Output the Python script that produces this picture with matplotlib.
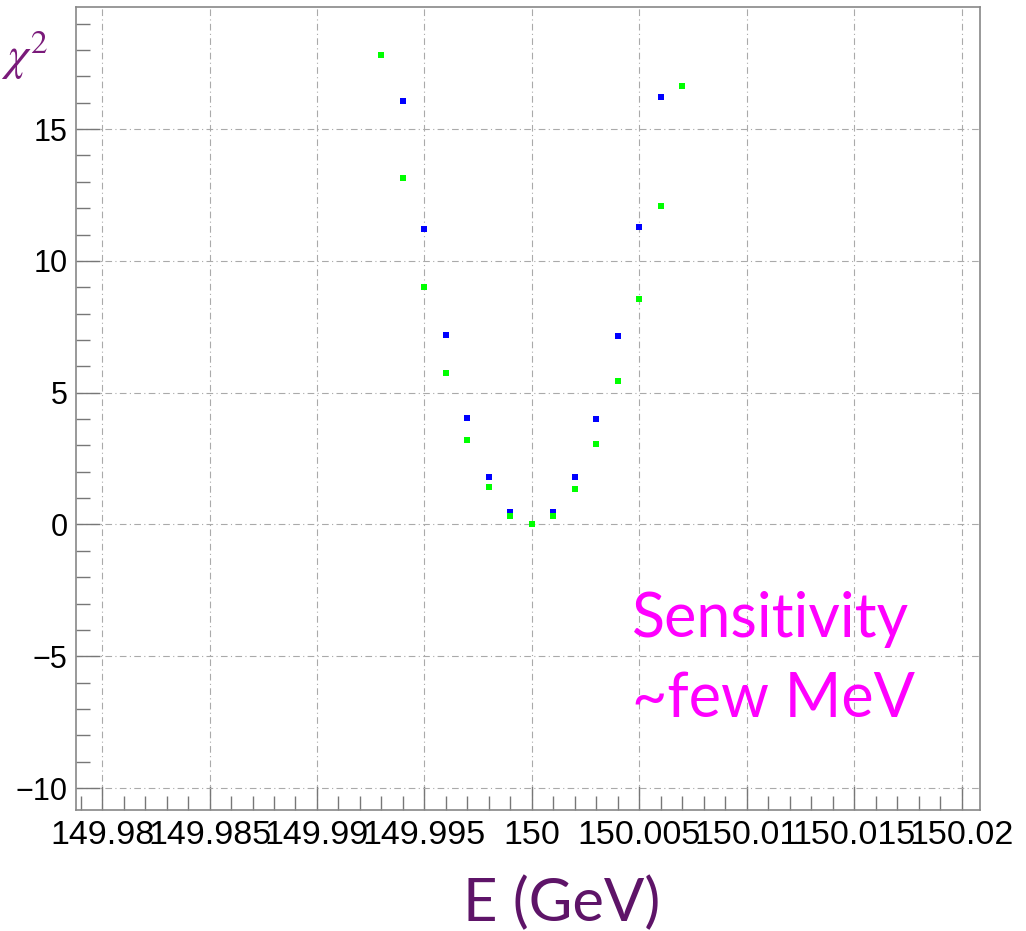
import matplotlib
matplotlib.use("Agg")
import matplotlib.pyplot as plt
import numpy as np
from matplotlib.ticker import MultipleLocator, FuncFormatter

# Beam energy scan points (GeV) and chi2 for the two fits
energy_blue = [149.994, 149.995, 149.996, 149.997, 149.998, 149.999,
               150.001, 150.002, 150.003, 150.004, 150.005, 150.006]
chi2_blue = [16.05, 11.19, 7.20, 4.05, 1.81, 0.46,
             0.47, 1.79, 4.01, 7.16, 11.27, 16.23]

energy_green = [149.993, 149.994, 149.995, 149.996, 149.997, 149.998, 149.999,
                150.000, 150.001, 150.002, 150.003, 150.004, 150.005, 150.006, 150.007]
chi2_green = [17.81, 13.15, 9.00, 5.76, 3.21, 1.41, 0.33,
              0.0, 0.32, 1.33, 3.05, 5.44, 8.55, 12.09, 16.63]

plt.rcParams['mathtext.fontset'] = 'stix'

fig = plt.figure(figsize=(10.26, 9.31), dpi=100)
ax = fig.add_axes([76 / 1026, 1 - 810 / 931, 904 / 1026, 803 / 931])

ax.plot(energy_blue, chi2_blue, 's', color='#0000ff', markersize=4.5, markeredgewidth=0)
ax.plot(energy_green, chi2_green, 's', color='#00ff00', markersize=4.5, markeredgewidth=0)

ax.set_xlim(149.97879, 150.02084)
ax.set_ylim(-10.83, 19.63)

ax.xaxis.set_major_locator(MultipleLocator(0.005))
ax.xaxis.set_minor_locator(MultipleLocator(0.001))
ax.yaxis.set_major_locator(MultipleLocator(5))
ax.yaxis.set_minor_locator(MultipleLocator(1))
ax.xaxis.set_major_formatter(FuncFormatter(lambda v, p: f"{v:.3f}".rstrip('0').rstrip('.')))
ax.yaxis.set_major_formatter(FuncFormatter(lambda v, p: f"{v:g}".replace('-', '\u2212')))

ax.tick_params(axis='both', which='major', direction='in', length=17, width=1,
               color='#777777')
ax.tick_params(axis='both', which='minor', direction='in', length=10, width=1,
               color='#777777')
ax.tick_params(axis='x', which='major', labelsize=24.5, pad=7)
ax.tick_params(axis='y', which='major', labelsize=22, pad=6)
for lab in ax.get_xticklabels() + ax.get_yticklabels():
    lab.set_fontfamily('Liberation Sans')

ax.grid(True, which='major', linestyle=(0, (6, 3, 1, 3)), color='#aaaaaa', linewidth=0.8)
for s in ax.spines.values():
    s.set_color('#888888')
    s.set_linewidth(1.2)

fig.text(632 / 1026, 1 - 637 / 931, 'Sensitivity', color='#ff00ff',
         fontsize=44, family='Lato', ha='left', va='baseline')
fig.text(632 / 1026, 1 - 717 / 931, '~few MeV', color='#ff00ff',
         fontsize=44, family='Lato', ha='left', va='baseline')

fig.text(562 / 1026, 1 - 921 / 931, 'E (GeV)', color='#5e1468',
         fontsize=43, family='Lato', ha='center', va='baseline')
fig.text(1 / 1026, 1 - 70 / 931, r'$\chi^2$', color='#7a1a7a',
         fontsize=34, ha='left', va='baseline')

fig.savefig('out.png', dpi=100)
